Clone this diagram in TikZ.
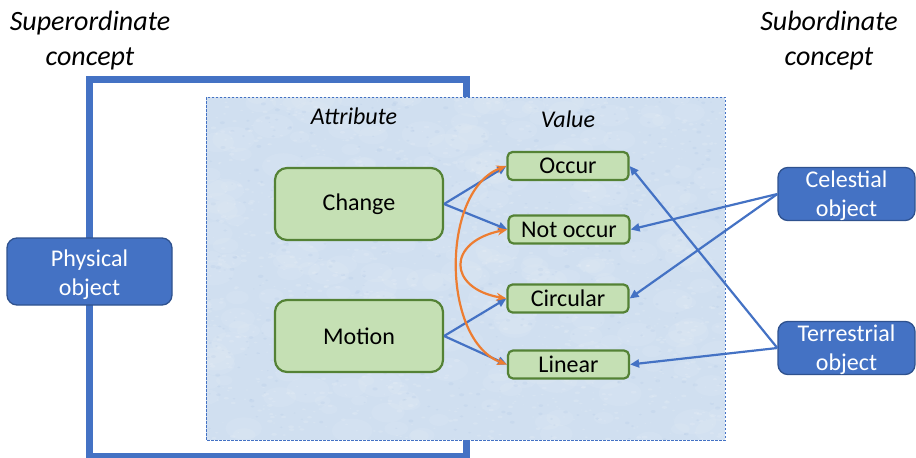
\documentclass[tikz,border=0pt]{standalone}
\usepackage{fontspec}
\setmainfont{Carlito}
\usetikzlibrary{arrows.meta}
\definecolor{accblue}{RGB}{68,114,196}
\definecolor{darkblue}{RGB}{47,82,143}
\definecolor{leaf}{RGB}{197,224,180}
\definecolor{leafedge}{RGB}{84,130,53}
\definecolor{accorange}{RGB}{237,125,49}
\definecolor{paper}{RGB}{208,223,240}
\begin{document}
\begin{tikzpicture}[x=1pt,y=-1pt,
  attrbox/.style={draw=leafedge, fill=leaf, line width=2.2pt, rounded corners=12pt,
    minimum width=168pt, minimum height=72pt, inner sep=0pt, font=\fontsize{24}{28}\selectfont},
  valbox/.style={draw=leafedge, fill=leaf, line width=2.2pt, rounded corners=5pt,
    minimum width=121pt, minimum height=28pt, inner sep=0pt, font=\fontsize{24}{28}\selectfont},
  objbox/.style={draw=darkblue, fill=accblue, text=white, line width=1.3pt, rounded corners=10pt,
    align=center, inner sep=0pt, font=\fontsize{24}{29}\selectfont},
  heading/.style={align=center, inner sep=0pt, font=\fontsize{28}{35}\selectfont\itshape},
  colhead/.style={anchor=base, inner sep=0pt, font=\fontsize{24}{28}\selectfont\itshape},
  link/.style={draw=accblue, line width=2.2pt, -{Triangle[length=9pt,width=8pt]}},
  swap/.style={draw=accorange, line width=2.2pt,
    {Stealth[length=10pt,width=8pt]}-{Stealth[length=10pt,width=8pt]}},
]
\useasboundingbox (0,0) rectangle (916,458);

% headings
\node[heading] (sup) at (90,40.5) {Superordinate\\concept};
\node[heading] (sub) at (829,40.5) {Subordinate\\concept};

% bracket joining the superordinate concept to the attribute panel
\draw[accblue, line width=7pt, line join=miter]
  (466,100) -- (466,79) -- (89,79) -- (89,456) -- (466,456) -- (466,437);

% textured attribute/value panel
\begin{scope}
  \clip (206,97) rectangle (725,440);
  \fill[paper] (206,97) rectangle (725,440);
  \pgfmathsetseed{11}
  \foreach \i in {1,...,260}{
    \pgfmathsetmacro{\px}{206+519*rnd}
    \pgfmathsetmacro{\py}{97+343*rnd}
    \pgfmathsetmacro{\pr}{8+14*rnd}
    \pgfmathsetmacro{\pq}{0.6*\pr}
    \fill[white, opacity=0.07] (\px,\py) ellipse[x radius=\pr, y radius=\pq];
  }
  \foreach \i in {1,...,1400}{
    \pgfmathsetmacro{\px}{206+519*rnd}
    \pgfmathsetmacro{\py}{97+343*rnd}
    \pgfmathsetmacro{\pr}{0.8+2.2*rnd}
    \pgfmathsetmacro{\pq}{0.5*\pr}
    \fill[white, opacity=0.13] (\px,\py) ellipse[x radius=\pr, y radius=\pq];
  }
  \foreach \i in {1,...,500}{
    \pgfmathsetmacro{\px}{206+519*rnd}
    \pgfmathsetmacro{\py}{97+343*rnd}
    \pgfmathsetmacro{\pr}{0.8+2*rnd}
    \pgfmathsetmacro{\pq}{0.6*\pr}
    \fill[accblue, opacity=0.05] (\px,\py) ellipse[x radius=\pr, y radius=\pq];
  }
\end{scope}
\draw[accblue, line width=1pt, dash pattern=on 2.5pt off 1.5pt] (206,97) rectangle (725,440);

\node[colhead] (attr) at (354,124) {Attribute};
\node[colhead] (val) at (568,127) {Value};

% attributes
\node[attrbox] (change) at (359,204) {Change};
\node[attrbox] (motion) at (359,336) {Motion};

% values
\node[valbox] (occur) at (568,166) {Occur};
\node[valbox] (notoccur) at (569,229.5) {Not occur};
\node[valbox] (circular) at (568,298.5) {Circular};
\node[valbox] (linear) at (568.5,364.5) {Linear};

% concepts (the strut in the first line lowers the text a little)
\node[objbox, minimum width=165pt, minimum height=67pt] (physical) at (89.5,271.5)
  {\rule{0pt}{24pt}Physical\\object};
\node[objbox, minimum width=137pt, minimum height=52pt] (celestial) at (846.5,194)
  {\rule{0pt}{20pt}Celestial\\object};
\node[objbox, minimum width=137pt, minimum height=52pt] (terrestrial) at (846.5,348)
  {\rule{0pt}{20pt}Terrestrial\\object};

% attribute to value links
\draw[link] (change.east) -- (occur.west);
\draw[link] (change.east) -- (notoccur.west);
\draw[link] (motion.east) -- (circular.west);
\draw[link] (motion.east) -- (linear.west);

% subordinate concepts to values
\draw[link] (celestial.west) -- (notoccur.east);
\draw[link] (celestial.west) -- (circular.east);
\draw[link] (terrestrial.west) -- (occur.east);
\draw[link] (terrestrial.west) -- (linear.east);

% value correspondences
\draw[swap] (occur.west) .. controls +(-66,24) and +(-66,-24) .. (linear.west);
\draw[swap] (notoccur.west) .. controls +(-61,12) and +(-59,-10) .. (circular.west);
\end{tikzpicture}
\end{document}
